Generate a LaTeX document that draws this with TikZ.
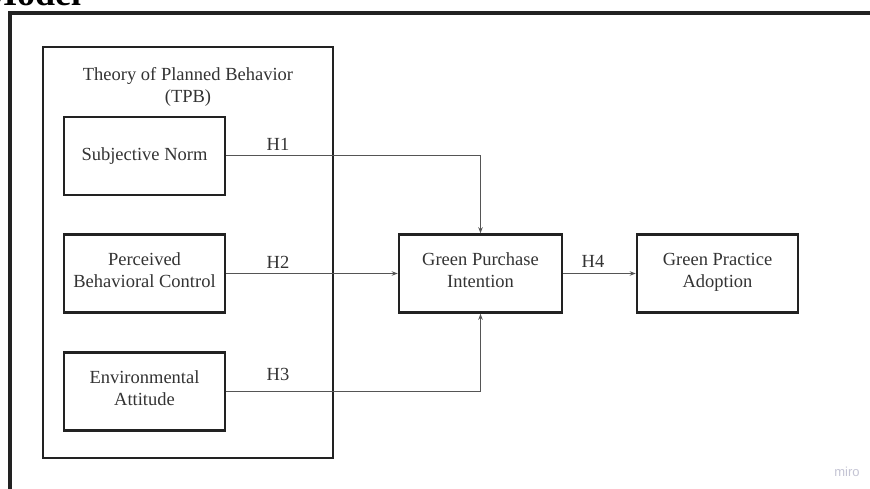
\documentclass[tikz,border=0pt]{standalone}
\usepackage{fontspec}
\setmainfont{Liberation Serif}
\newfontfamily\mirofont{Liberation Sans}
\usetikzlibrary{arrows.meta}
\definecolor{ink}{HTML}{222222}
\definecolor{txt}{HTML}{333333}
\definecolor{conn}{HTML}{555555}
\definecolor{mirocol}{HTML}{C4C4D4}
\tikzset{
  box/.style={draw=ink, line width=2.6pt, minimum width=161pt, minimum height=78pt,
    align=center, font=\fontsize{18.5}{22}\selectfont, text=txt, inner sep=0pt,
    execute at begin node=\strut, execute at end node=\strut},
  conn/.style={draw=conn, line width=1pt},
  arr/.style={conn, -{Stealth[length=6pt,width=4.5pt]}},
  hlab/.style={font=\fontsize{18.5}{22}\selectfont, text=txt, inner sep=0pt},
}
\begin{document}
\begin{tikzpicture}[x=1pt,y=-1pt]
\useasboundingbox (0,0) rectangle (870,489);
\fill[white] (0,0) rectangle (870,489);
% cropped heading
\node[anchor=base west, inner sep=0pt, font=\bfseries\fontsize{36}{40}\selectfont, text=black] (model) at (-17,6) {Model};
% outer frame (cropped)
\draw[ink, line width=3.8pt] (10,500) -- (10,13) -- (880,13);
% TPB group box
\node[draw=ink, line width=2pt, minimum width=290pt, minimum height=411pt, inner sep=0pt] (tpb) at (188,252.5) {};
\node[align=center, font=\fontsize{18.5}{22}\selectfont, text=txt, inner sep=0pt] (tpbtitle) at (188,86.5) {Theory of Planned Behavior\\(TPB)};
% boxes
\node[box] (sn) at (144.5,156) {Subjective Norm};
\node[box] (pbc) at (144.5,273.5) {Perceived\\Behavioral Control};
\node[box] (ea) at (144.5,391.5) {Environmental\\Attitude};
\node[box, minimum width=163pt] (gpi) at (480.5,273.5) {Green Purchase\\Intention};
\node[box] (gpa) at (717.5,273.5) {Green Practice\\Adoption};
% connectors
\draw[arr] (sn.east) -| (gpi.north);
\draw[arr] (pbc.east) -- (gpi.west);
\draw[arr] (ea.east) -| (gpi.south);
\draw[arr] (gpi.east) -- (gpa.west);
% labels
\node[hlab] (h1) at (278,144) {H1};
\node[hlab] (h2) at (278,262) {H2};
\node[hlab] (h3) at (278,374) {H3};
\node[hlab] (h4) at (593,261) {H4};
\node[font=\mirofont\fontsize{13}{15}\selectfont, text=mirocol, inner sep=0pt] (miro) at (847,472) {miro};
\end{tikzpicture}
\end{document}
